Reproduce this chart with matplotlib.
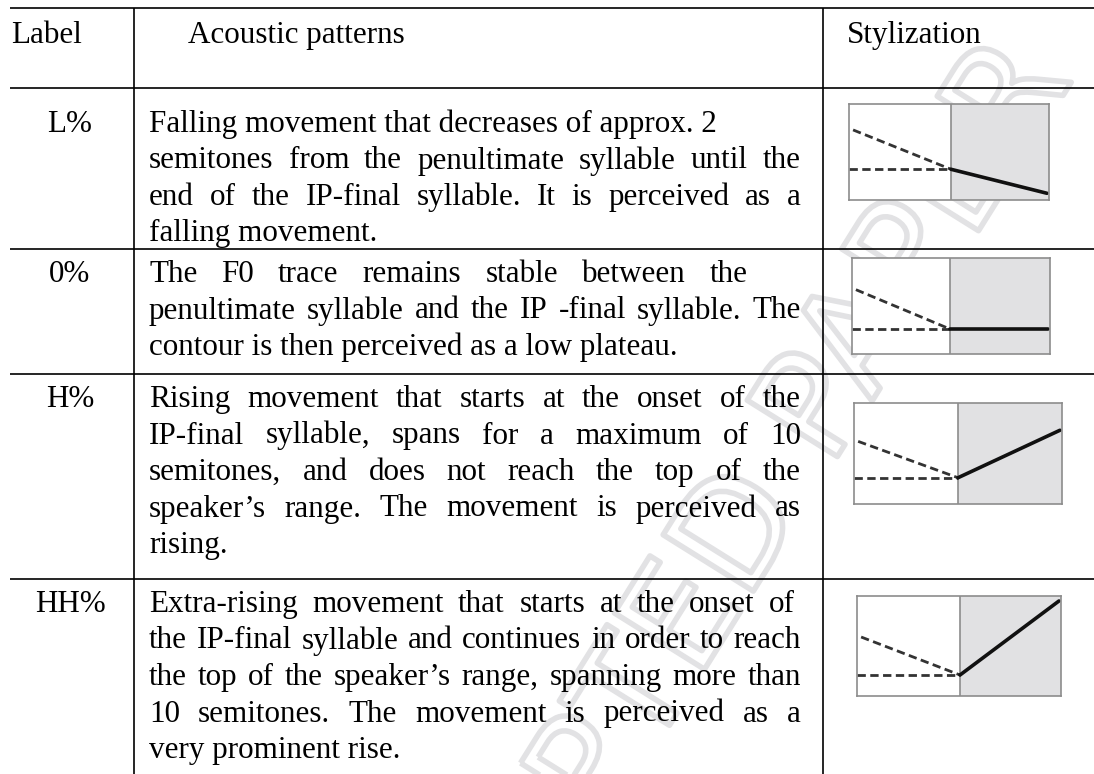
import numpy as np
import matplotlib
matplotlib.use("Agg")
import matplotlib.pyplot as plt
import matplotlib.patheffects as pe

FONT = "Liberation Serif"
FS = 22.4

headers = ["Label", "Acoustic patterns", "Stylization"]
labels = ["L%", "0%", "H%", "HH%"]

# (text, justify width or None)
rows = [
    [("Falling movement that decreases of approx. 2", None),
     ("semitones from the penultimate syllable until the", 652),
     ("end of the IP-final syllable. It is perceived as a", 652),
     ("falling movement.", None)],
    [("The F0 trace remains stable between the", 599),
     ("penultimate syllable and the IP -final syllable. The", 652),
     ("contour is then perceived as a low plateau.", None)],
    [("Rising movement that starts at the onset of the", 652),
     ("IP-final syllable, spans for a maximum of 10", 652),
     ("semitones, and does not reach the top of the", 652),
     ("speaker\u2019s range. The movement is perceived as", 652),
     ("rising.", None)],
    [("Extra-rising movement that starts at the onset of", 646),
     ("the IP-final syllable and continues in order to reach", 652),
     ("the top of the speaker\u2019s range, spanning more than", 652),
     ("10 semitones. The movement is perceived as a", 652),
     ("very prominent rise.", None)],
]

# stylized F0 contours: x = 0 (penultimate onset), 1 (final onset), 2 (end)
pitch_start = [0.73, 0.67, 0.62, 0.59]
pitch_valley = [0.32, 0.26, 0.26, 0.21]
pitch_end = [0.07, 0.26, 0.73, 0.95]

# layout in pixels
W, H = 1094, 774
row_lines = [8, 88, 249, 374, 579]
col_lines = [134, 823]
first_base = [132, 282, 407, 612]
line_step = 36.5
boxes = [(849, 104, 1049, 200), (852, 258, 1050, 354),
         (854, 403, 1062, 504), (857, 596, 1061, 696)]
dividers = [951, 950, 958, 960]

fig = plt.figure(figsize=(W / 100, H / 100), dpi=100)
ax = fig.add_axes([0, 0, 1, 1])
ax.set_xlim(0, W)
ax.set_ylim(H, 0)
ax.axis("off")
renderer = fig.canvas.get_renderer()

# watermark (faint, partly off the page like the original)
ax.text(700, 600, "ACCEPTED PAPER", rotation=58, rotation_mode="anchor",
        ha="center", va="center", fontsize=105, family="DejaVu Sans",
        color=(1, 1, 1, 0), zorder=0,
        path_effects=[pe.Stroke(linewidth=4, foreground="#e2e2e4")])

# table rules
ax.hlines(row_lines, 10, W, color="black", lw=1.2, zorder=2)
ax.vlines(col_lines, row_lines[0], H, color="black", lw=1.2, zorder=2)

# header
ax.text(11, 43, headers[0], fontsize=FS, family=FONT, va="baseline", zorder=3)
ax.text(188, 43, headers[1], fontsize=FS, family=FONT, va="baseline", zorder=3)
ax.text(847, 43, headers[2], fontsize=FS, family=FONT, va="baseline", zorder=3)


def width_of(s):
    t = ax.text(0, 0, s, fontsize=FS, family=FONT)
    w = t.get_window_extent(renderer).width
    t.remove()
    return w


x0 = 149
for i, lines in enumerate(rows):
    y = first_base[i]
    ax.text(70, y, labels[i], fontsize=FS, family=FONT, ha="center",
            va="baseline", zorder=3)
    for text, just in lines:
        if just is None:
            ax.text(x0, y, text, fontsize=FS, family=FONT, va="baseline", zorder=3)
        else:
            words = text.split()
            ws = [width_of(w) for w in words]
            gap = (just - sum(ws)) / (len(words) - 1)
            x = x0
            for w, ww in zip(words, ws):
                ax.text(x, y, w, fontsize=FS, family=FONT, va="baseline", zorder=3)
                x += ww + gap
        y += line_step

# stylization panels
for i, (l, t, r, b) in enumerate(boxes):
    sub = fig.add_axes([l / W, 1 - b / H, (r - l) / W, (b - t) / H])
    frac = (dividers[i] - l) / (r - l)
    xr = 1 / frac  # data x of right edge so the divider sits at x = 1
    sub.set_xlim(0, xr)
    sub.set_ylim(0, 1)
    sub.axvspan(1, xr, color="#e1e1e3", lw=0)
    sub.axvline(1, color="#8c8c8c", lw=1.2)
    for s in sub.spines.values():
        s.set_color("#8c8c8c")
        s.set_linewidth(1.2)
    sub.set_xticks([])
    sub.set_yticks([])
    sub.plot([0.04, 1], [pitch_start[i], pitch_valley[i]], color="#333333",
             lw=2.0, dashes=(3, 1.6))
    sub.plot([0, 1], [pitch_valley[i], pitch_valley[i]], color="#333333",
             lw=2.0, dashes=(3, 1.6))
    sub.plot([1, xr - 0.02], [pitch_valley[i], pitch_end[i]], color="#111111",
             lw=2.6, solid_capstyle="round")

fig.savefig("out.png", dpi=100)
